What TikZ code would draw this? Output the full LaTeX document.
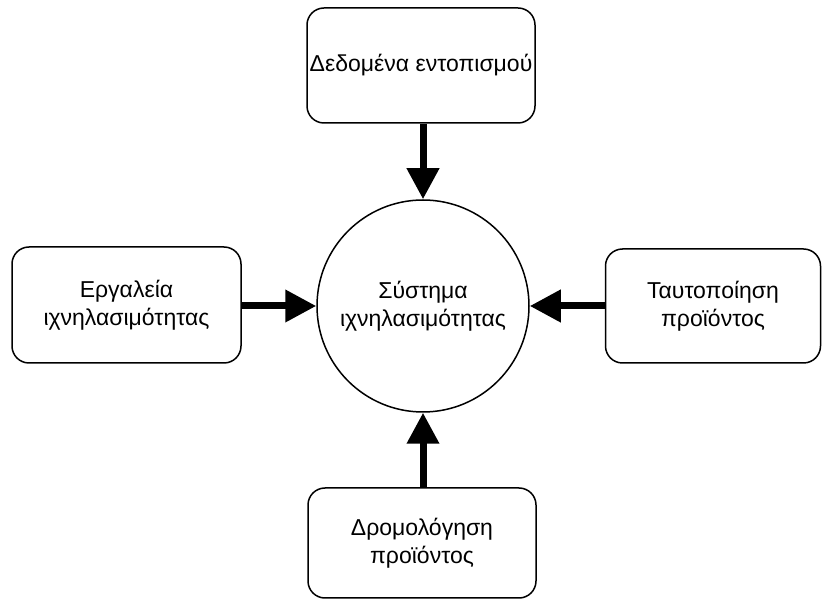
\documentclass[tikz,border=0pt]{standalone}
\usepackage{fontspec}
\setmainfont{Liberation Sans}
\usetikzlibrary{arrows.meta}
\begin{document}
\begin{tikzpicture}[x=1pt,y=-1pt,
  label font/.style={font=\fontsize{23}{28.5}\selectfont},
  stepbox/.style={draw, rounded corners=17pt, line width=1.5pt, align=center,
    inner sep=1pt, label font},
  hub/.style={draw, circle, line width=1.5pt, align=center, inner sep=0pt,
    minimum size=212pt, label font},
  feed/.style={line width=7pt, -{Triangle[length=31pt,width=31pt]}}]
\useasboundingbox (0,0) rectangle (823,601);

% central system
\node[hub] (sys) at (423,306) {Σύστημα\\ιχνηλασιμότητας};

% surrounding inputs
\node[stepbox, minimum width=228pt, minimum height=115pt] (data) at (421,65.5) {Δεδομένα εντοπισμού};
\node[stepbox, minimum width=229pt, minimum height=116pt] (tools) at (126.5,305) {Εργαλεία\\ιχνηλασιμότητας};
\node[stepbox, minimum width=215pt, minimum height=114pt] (ident) at (713,306) {Ταυτοποίηση\\προϊόντος};
\node[stepbox, minimum width=228pt, minimum height=110pt] (route) at (422,543) {Δρομολόγηση\\προϊόντος};

% arrows into the system
\draw[feed] (sys.north |- data.south) -- (sys.north);
\draw[feed] (tools.east |- sys.west) -- (sys.west);
\draw[feed] (ident.west |- sys.east) -- (sys.east);
\draw[feed] (sys.south |- route.north) -- (sys.south);
\end{tikzpicture}
\end{document}
